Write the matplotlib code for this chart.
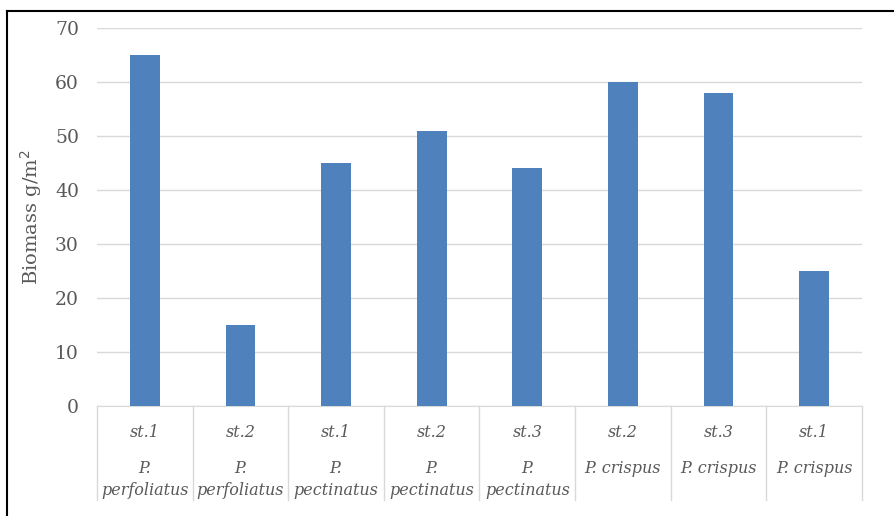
import matplotlib.pyplot as plt
import matplotlib.transforms as mtransforms
import numpy as np

# biomass per station / species
stations = ["st.1", "st.2", "st.1", "st.2", "st.3", "st.2", "st.3", "st.1"]
species = ["P.\nperfoliatus", "P.\nperfoliatus", "P.\npectinatus", "P.\npectinatus",
           "P.\npectinatus", "P. crispus", "P. crispus", "P. crispus"]
biomass = [65, 15, 45, 51, 44, 60, 58, 25]

grey = "#595959"
serif = "DejaVu Serif"

fig = plt.figure(figsize=(8.94, 5.16), dpi=100)
ax = fig.add_axes([0.1085, 0.2132, 0.8557, 0.7325])

x = np.arange(len(biomass))
ax.bar(x, biomass, width=0.31, color="#4f81bd", zorder=3)

ax.set_xlim(-0.5, len(biomass) - 0.5)
ax.set_ylim(0, 70)
ax.set_yticks(range(0, 71, 10))
ax.yaxis.grid(True, color="#d9d9d9", linewidth=1, zorder=0)
ax.tick_params(axis="y", length=0, pad=13, labelsize=13.5, labelcolor=grey)
for lab in ax.get_yticklabels():
    lab.set_fontfamily(serif)
ax.set_xticks([])
for s in ["top", "right", "left"]:
    ax.spines[s].set_visible(False)
ax.spines["bottom"].set_color("#d9d9d9")

ax.set_ylabel("Biomass g/m$^2$", fontsize=14, color=grey, family=serif, labelpad=8)

# category boxes below the axis
trans = mtransforms.blended_transform_factory(ax.transData, ax.transAxes)
for b in np.arange(len(biomass) + 1) - 0.5:
    ax.plot([b, b], [0, -0.249], transform=trans, color="#d9d9d9", lw=1, clip_on=False)
for i in x:
    ax.text(i, -0.07, stations[i], transform=trans, ha="center", va="center",
            fontsize=11.5, style="italic", color=grey, family=serif)
    ax.text(i, -0.143, species[i], transform=trans, ha="center", va="top",
            fontsize=11.5, style="italic", color=grey, family=serif, linespacing=1.35)

# outer frame: only top and left edges
fig.add_artist(plt.Line2D([0.008, 1.0], [0.979, 0.979], color="black", lw=1.5))
fig.add_artist(plt.Line2D([0.008, 0.008], [0.0, 0.979], color="black", lw=1.5))

fig.savefig("out.png", dpi=100)
